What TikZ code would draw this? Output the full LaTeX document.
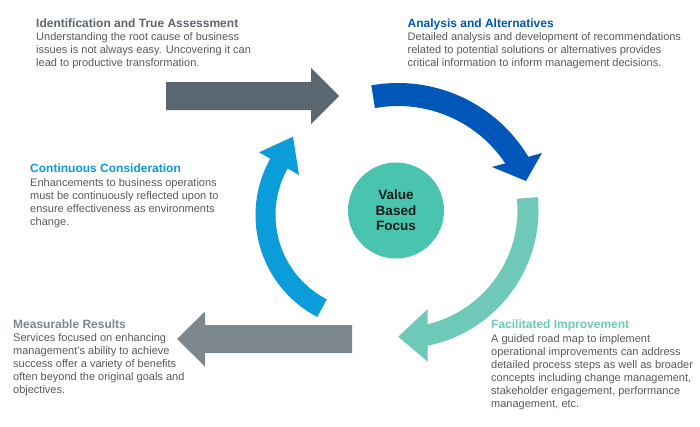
\documentclass[tikz,border=0pt]{standalone}
\usepackage{fontspec}
\setmainfont{Liberation Sans}
\definecolor{arrowdark}{HTML}{5B6770}
\definecolor{arrowgray}{HTML}{7D878E}
\definecolor{blueA}{HTML}{0057B8}
\definecolor{cyanA}{HTML}{0B9CDA}
\definecolor{tealA}{HTML}{6FC9B8}
\definecolor{focusfill}{HTML}{48C4AF}
\definecolor{bodygray}{HTML}{58595B}
\definecolor{focustext}{HTML}{1A1A1A}
\begin{document}
\begin{tikzpicture}[x=1pt,y=-1pt,
  ttl/.style={anchor=base west, inner sep=0pt, font=\fontsize{12}{14}\selectfont\bfseries},
  bdy/.style={anchor=base west, inner sep=0pt, font=\fontsize{11}{13}\selectfont, text=bodygray},
  band/.style={line width=#1},
]
\useasboundingbox (0,0) rectangle (700,426);
\fill[white] (0,0) rectangle (700,426);

% ---------- straight arrows ----------
\coordinate (r1tail) at (166,96);
\coordinate (r1tip) at (339,96);
\fill[arrowdark] (166,82) -- (311,82) -- (311,68) -- (r1tip) -- (311,124) -- (311,110) -- (166,110) -- cycle;

\coordinate (l1tail) at (352,339);
\coordinate (l1tip) at (177,339);
\fill[arrowgray] (352,325) -- (205,325) -- (205,311.5) -- (l1tip) -- (205,366.5) -- (205,353) -- (352,353) -- cycle;

% ---------- curved arrows ----------
% blue (top right)
\coordinate (bc) at (398,235);
\draw[blueA, band=23pt] ([shift={(-100.2:140.5)}]bc) arc[start angle=-100.2, end angle=-29.5, radius=140.5];
\coordinate (btip) at (526,181);
\fill[blueA] (492,167) -- (btip) -- (542,153) -- cycle;

% teal (right)
\coordinate (tc) at (400,210);
\draw[tealA, band=21pt] ([shift={(-5.4:128)}]tc) arc[start angle=-5.4, end angle=80, radius=128];
\coordinate (ttip) at (398.3,336.7);
\fill[tealA] (427.7,309) -- (ttip) -- (427.7,361.7) -- cycle;

% cyan (left)
\coordinate (cc) at (370.5,215);
\draw[cyanA, band=20pt] ([shift={(117.5:105)}]cc) arc[start angle=117.5, end angle=212, radius=105];
\coordinate (ctip) at (293,136.7);
\fill[cyanA] (259,152.3) -- (ctip) -- (299,175) -- cycle;

% ---------- centre ----------
\node[circle, fill=focusfill, minimum size=96pt, inner sep=0pt, align=center,
      text=focustext, font=\fontsize{13.5}{15.5}\selectfont\bfseries] (focus) at (396,210.5) {Value\\Based\\Focus};

% ---------- texts ----------
\node[ttl, text=arrowdark] (t1) at (36,27) {Identification and True Assessment};
\node[bdy] (b1) at (36,40) {\vtop{\hbox{Understanding the root cause of business}\hbox{issues is not always easy. Uncovering it can}\hbox{lead to productive transformation.}}};

\node[ttl, text=blueA] (t2) at (407.5,27) {Analysis and Alternatives};
\node[bdy] (b2) at (407.5,40) {\vtop{\hbox{Detailed analysis and development of recommendations}\hbox{related to potential solutions or alternatives provides}\hbox{critical information to inform management decisions.}}};

\node[ttl, text=cyanA] (t3) at (30,172.5) {Continuous Consideration};
\node[bdy] (b3) at (30,186) {\vtop{\hbox{Enhancements to business operations}\hbox{must be continuously reflected upon to}\hbox{ensure effectiveness as environments}\hbox{change.}}};

\node[ttl, text=arrowgray] (t4) at (13,328) {Measurable Results};
\node[bdy] (b4) at (13,341) {\vtop{\hbox{Services focused on enhancing}\hbox{management’s ability to achieve}\hbox{success offer a variety of benefits}\hbox{often beyond the original goals and}\hbox{objectives.}}};

\node[ttl, text=tealA] (t5) at (491,328) {Facilitated Improvement};
\node[bdy] (b5) at (491,342) {\vtop{\hbox{A guided road map to implement}\hbox{operational improvements can address}\hbox{detailed process steps as well as broader}\hbox{concepts including change management,}\hbox{stakeholder engagement, performance}\hbox{management, etc.}}};
\end{tikzpicture}
\end{document}
